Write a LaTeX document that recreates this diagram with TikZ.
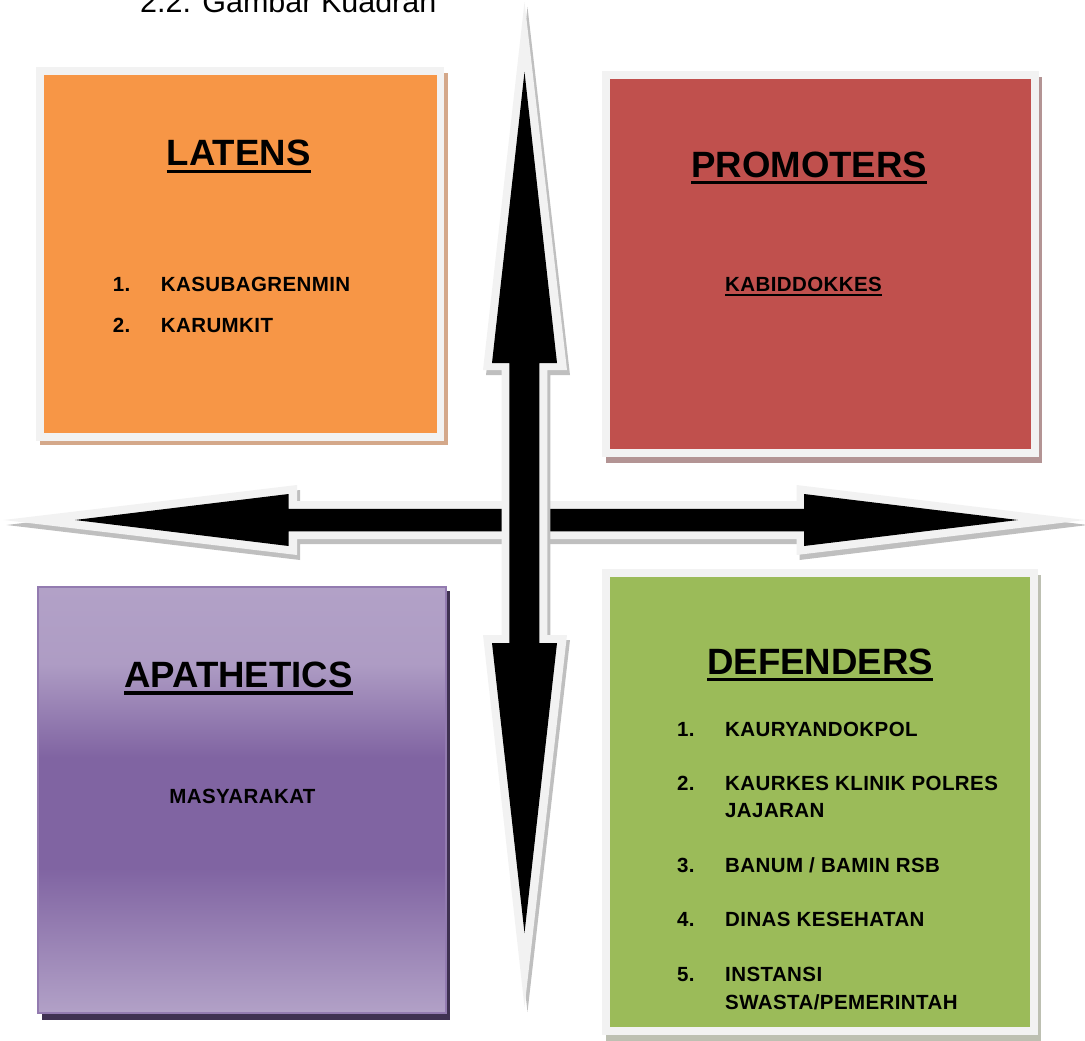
\documentclass[tikz,border=0pt]{standalone}
\usepackage{fontspec}
\setmainfont{Liberation Sans}
\newfontfamily\entryfamily[LetterSpace=2]{Liberation Sans}
\definecolor{framegray}{HTML}{F2F2F2}
\definecolor{arrowshadow}{HTML}{BFBFBF}
\definecolor{latfill}{HTML}{F79646}
\definecolor{latshade}{HTML}{D4A88A}
\definecolor{profill}{HTML}{C0504D}
\definecolor{proshade}{HTML}{B39494}
\definecolor{deffill}{HTML}{9BBB59}
\definecolor{defshade}{HTML}{BDC0B2}
\definecolor{apalight}{HTML}{B2A1C7}
\definecolor{apadark}{HTML}{8064A2}
\definecolor{apashade}{HTML}{3F3151}
% light at the edges, a broad dark band across the middle
\pgfdeclareverticalshading{apaband}{100bp}{%
  color(0bp)=(apalight); color(25bp)=(apalight);
  color(42bp)=(apadark); color(55bp)=(apadark);
  color(66bp)=(apalight!92!apadark); color(75bp)=(apalight); color(100bp)=(apalight)}
\newcommand\hdfont{\bfseries\fontsize{36.6}{40}\selectfont}
\newcommand\itfont{\entryfamily\bfseries\fontsize{20.5}{27.5}\selectfont}
\begin{document}
\begin{tikzpicture}[x=1pt,y=-1pt,
  heading/.style={font=\hdfont, inner sep=0, anchor=base west},
  entry/.style={font=\itfont, inner sep=0, anchor=base west},
  uline/.style={line width=3.6pt},
  thinuline/.style={line width=2pt}]
\useasboundingbox (0,0) rectangle (1085,1041);

% caption
\node[anchor=base west, inner sep=0, font=\fontsize{30.5}{34}\selectfont] (title) at (140,12.5) {2.2. Gambar Kuadran};

% ---- quadrant boxes ----
% latens (top left)
\fill[latshade] (40,73) rectangle (448,445);
\fill[framegray] (36,67) rectangle (444,441);
\fill[latfill] (44,75) rectangle (437,433);
% promoters (top right)
\fill[proshade] (606,77) rectangle (1042,463);
\fill[framegray] (602,71) rectangle (1039,457);
\fill[profill] (610,79) rectangle (1031,449);
% defenders (bottom right)
\fill[defshade] (606,575) rectangle (1041,1041);
\fill[framegray] (602,569) rectangle (1038,1035);
\fill[deffill] (610,577) rectangle (1030,1027);
% apathetics (bottom left)
\fill[apashade] (42,591) rectangle (450,1020);
\shade[shading=apaband] (38,587) rectangle (446,1013);
\draw[apadark!85!white, line width=2pt] (38,587) rectangle (446,1013);

% ---- horizontal double arrow ----
\fill[arrowshadow, shift={(3,5)}]
  (3.6,520) -- (297,485) -- (297,501) -- (796.5,501) -- (796.5,485) -- (1085,520)
  -- (796.5,555) -- (796.5,539) -- (297,539) -- (297,555) -- cycle;
\fill[framegray]
  (3.6,520) -- (297,485) -- (297,501) -- (796.5,501) -- (796.5,485) -- (1085,520)
  -- (796.5,555) -- (796.5,539) -- (297,539) -- (297,555) -- cycle;
\fill[black]
  (75,520) -- (288.6,494) -- (288.6,508.75) -- (804,508.75) -- (804,494) -- (1018,520)
  -- (804,546) -- (804,531.25) -- (288.6,531.25) -- (288.6,546) -- cycle;

% ---- vertical double arrow ----
\fill[arrowshadow, shift={(3,5)}]
  (524.5,2) -- (567,370) -- (547.3,370) -- (547.3,635) -- (567,635) -- (524.5,1007)
  -- (483,635) -- (501.7,635) -- (501.7,370) -- (483,370) -- cycle;
\fill[framegray]
  (524.5,2) -- (567,370) -- (547.3,370) -- (547.3,635) -- (567,635) -- (524.5,1007)
  -- (483,635) -- (501.7,635) -- (501.7,370) -- (483,370) -- cycle;
\fill[black]
  (524.5,72) -- (557,363) -- (539.3,363) -- (539.3,643) -- (557,643) -- (524.5,933)
  -- (492,643) -- (509.3,643) -- (509.3,363) -- (492,363) -- cycle;

% ---- headings ----
\node[heading] (latens) at (166.7,165.7) {LATENS};
\draw[uline] ([yshift=-5.6pt]latens.base west) -- ([yshift=-5.6pt]latens.base east);
\node[heading] (promoters) at (691,177) {PROMOTERS};
\draw[uline] ([yshift=-5.6pt]promoters.base west) -- ([yshift=-5.6pt]promoters.base east);
\node[heading] (apathetics) at (124,687.6) {APATHETICS};
\draw[uline] ([yshift=-5.6pt]apathetics.base west) -- ([yshift=-5.6pt]apathetics.base east);
\node[heading] (defenders) at (707,674) {DEFENDERS};
\draw[uline] ([yshift=-5.6pt]defenders.base west) -- ([yshift=-5.6pt]defenders.base east);

% ---- latens members ----
\node[entry] (lnum1) at (112.7,291.7) {1.};
\node[entry] (lname1) at (160.7,291.7) {KASUBAGRENMIN};
\node[entry] (lnum2) at (112.7,332.7) {2.};
\node[entry] (lname2) at (160.7,332.7) {KARUMKIT};

% ---- promoters member ----
\node[entry] (kabid) at (725,291.7) {KABIDDOKKES};
\draw[thinuline] ([yshift=-3.3pt]kabid.base west) -- ([yshift=-3.3pt]kabid.base east);

% ---- apathetics member ----
\node[entry, anchor=base] (masy) at (242.5,803.5) {MASYARAKAT};

% ---- defenders members ----
\node[entry] (dnum1) at (677,736) {1.};
\node[entry] (dname1) at (725,736) {KAURYANDOKPOL};
\node[entry] (dnum2) at (677,790) {2.};
\node[entry] (dname2) at (725,790) {KAURKES KLINIK POLRES};
\node[entry] (dname2b) at (725,817) {JAJARAN};
\node[entry] (dnum3) at (677,872) {3.};
\node[entry] (dname3) at (725,872) {BANUM / BAMIN RSB};
\node[entry] (dnum4) at (677,926) {4.};
\node[entry] (dname4) at (725,926) {DINAS KESEHATAN};
\node[entry] (dnum5) at (677,981) {5.};
\node[entry] (dname5) at (725,981) {INSTANSI};
\node[entry] (dname5b) at (725,1009) {SWASTA/PEMERINTAH};
\end{tikzpicture}
\end{document}
